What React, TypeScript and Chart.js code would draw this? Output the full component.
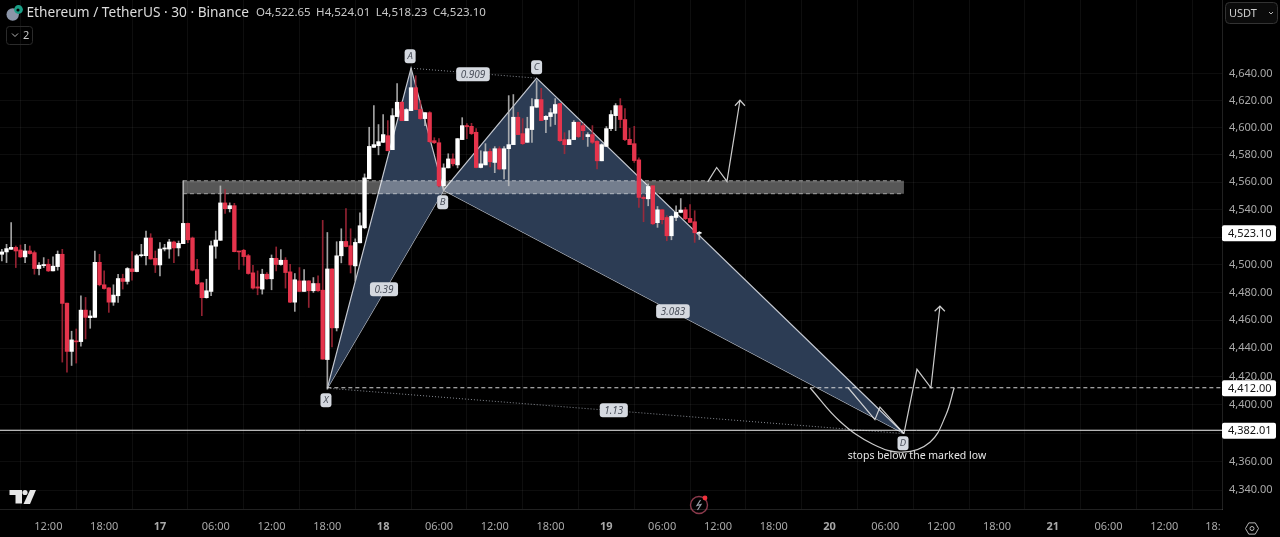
import React, { useEffect, useRef } from "react";
import { Chart, registerables } from "chart.js";

Chart.register(...registerables);

const FONT = '"Noto Sans", sans-serif';

// Candle i opens at hour firstHour + i * 0.5 (hours measured from 17 Sep 00:00)
const firstHour = -17;
const opens = [
  4507.5,4509.2,4511.1,4512.5,4510.6,4505.6,4509.9,4508.7,4497.2,4499.3,
  4500.3,4495.5,4498.6,4507.5,4472.3,4437.8,4445.1,4444.8,4467.3,4461.9,
  4462.1,4501.7,4485.5,4483.3,4473,4477.6,4490,4487.9,4497,4495,
  4506.5,4506.5,4519.3,4504.6,4499.8,4511.3,4511.3,4516.4,4512.1,4515.2,
  4529.9,4519.3,4496.5,4486.9,4476.2,4480.7,4513.3,4517.6,4544.8,4540.6,
  4542.8,4509.7,4510.4,4506.5,4494.1,4484,4482.4,4493.1,4489.8,4504.6,
  4500.1,4503.2,4494.8,4473,4488.3,4480.7,4488.3,4481.2,4486.4,4481.6,
  4432,4496.9,4454.6,4506.4,4516.8,4513.7,4499.1,4515.8,4526.7,4562.4,
  4585.5,4586.7,4589.2,4594.1,4583.8,4608.2,4618.8,4605.2,4612.6,4629.6,
  4613.4,4606.7,4611.1,4590.4,4588.9,4557.3,4570.4,4577,4572.6,4591.2,
  4601.3,4601,4596.6,4570.7,4572.6,4582.5,4574.4,4584.5,4569.6,4584.5,
  4587.5,4607.7,4595.6,4589.2,4598.6,4615.1,4620.8,4606,4608.2,4610.6,
  4617.8,4591.2,4587.5,4591.2,4604,4601.5,4593.4,4594.9,4589.9,4575.6,
  4586.2,4599.3,4608.9,4616.3,4606,4591.4,4588.2,4576.3,4548.8,4547.8,
  4557.3,4530.4,4539.8,4534.2,4520.9,4534.2,4537.9,4539.8,4533.5,4531.1,4522.65,
];
const highs = [
  4511.1,4514.7,4530.4,4513.5,4514.2,4514.7,4513.5,4509.9,4501.5,4505.1,
  4503.9,4505.6,4509.9,4511.1,4472.3,4452.2,4453.8,4477.6,4476.4,4466.9,
  4509.9,4507.5,4495.5,4483.5,4485.5,4493.1,4493.1,4497.9,4509.4,4507.5,
  4514.7,4524.3,4522.4,4509.9,4515.9,4514.7,4518.3,4517.1,4517.1,4560.9,
  4530.2,4520,4503.9,4487,4489.5,4517.1,4524.3,4557.2,4554.8,4544.8,
  4544.5,4509.7,4511.1,4507.5,4499.6,4495.5,4496.7,4494.3,4507,4512.8,
  4510.9,4505.1,4500.3,4493.6,4497.9,4496.5,4488.4,4490.7,4491.9,4532.1,
  4523.3,4497,4516.6,4526,4540.6,4526,4518.7,4537.6,4566,4600.3,
  4616.3,4602.3,4609.7,4605.2,4614.1,4632.6,4619.3,4614.1,4643.7,4638.5,
  4620,4611.2,4611.8,4592.6,4591.9,4573.4,4580.8,4580.8,4592,4607.4,
  4603,4603.2,4599.3,4583,4588.2,4584.5,4586,4586,4586,4623.7,
  4624.5,4611.4,4606.7,4607.7,4621.5,4634.8,4629.1,4608.9,4614.1,4621.5,
  4618,4596.3,4597.8,4605.2,4604.2,4603,4596.3,4601.5,4590.4,4588.2,
  4600.8,4612.6,4617.8,4621.5,4614.1,4599.5,4601,4577.8,4550,4558.7,
  4557.5,4542.2,4540,4535.5,4535.5,4542.7,4548,4541.5,4543.5,4539.1,4524.01,
];
const lows = [
  4502.7,4501.5,4511.1,4497.9,4505.1,4501.5,4507.5,4493.1,4492.6,4497.9,
  4495,4495.5,4496,4430.2,4423.1,4427.8,4429.5,4441.5,4446.7,4454.3,
  4462.1,4484.7,4482.4,4465.7,4470.7,4472.8,4482.4,4486,4488.8,4494.8,
  4505.6,4499.8,4503.9,4494.3,4491.9,4509.9,4504.6,4501.5,4506.3,4515.2,
  4515.9,4495.5,4485.5,4463.3,4475.9,4477.6,4504.6,4517.6,4537.2,4538.2,
  4509.2,4496.5,4499.6,4493.1,4482.4,4478.3,4478.8,4489.3,4481.9,4495.5,
  4499.6,4483.1,4472.6,4466.4,4480.7,4480.7,4469.2,4480,4480.7,4432.3,
  4411,4441,4452.4,4501.3,4512.9,4494,4488.3,4515.8,4526,4562.4,
  4585.5,4580,4589,4583,4583.8,4608.2,4605.2,4605.2,4612.6,4613.4,
  4606,4601.5,4589,4588.2,4556.5,4553.6,4570.4,4571.9,4570.4,4591.2,
  4591.9,4594.9,4570.4,4570.4,4572.6,4571.2,4566.9,4569,4562.4,4557.3,
  4587.5,4594.9,4587.5,4589.2,4589.2,4615,4605.2,4596.3,4601,4602.3,
  4589.7,4580.8,4587.5,4591.2,4592.6,4591.2,4586.2,4588.2,4569.6,4575.6,
  4586,4597.8,4597.8,4600,4590.4,4587.5,4574.4,4541.5,4531.1,4542.7,
  4529,4527,4529.6,4517.3,4518,4531.8,4537.6,4532.6,4530.4,4516.1,4518.23,
];
const closes = [
  4509.2,4511.6,4512.5,4509.9,4505.6,4509.9,4508,4497.2,4499.6,4500.1,
  4495.5,4498.9,4507.5,4472.1,4437.8,4446,4444.6,4467.3,4462.1,4463.1,
  4501.7,4485.5,4482.8,4473,4478.1,4490,4487.9,4497.2,4495,4506.5,
  4507,4519.3,4504.1,4499.8,4511.3,4512.1,4516.4,4512.1,4515.4,4529.9,
  4518,4496,4486.2,4476.2,4481.2,4513.7,4517.8,4544.8,4540.6,4542.8,
  4509.4,4509.2,4505.8,4493.6,4483.1,4483.1,4493.1,4489.8,4504.6,4500.1,
  4503.2,4494.3,4473,4489.1,4480.7,4488.3,4481.2,4486.4,4481.2,4432.3,
  4496.9,4454.6,4506.4,4516.8,4513.1,4499.8,4516.1,4528.2,4563.1,4586.2,
  4587.5,4589.7,4594.9,4583,4608.9,4618.8,4605.2,4613.4,4629.6,4613.4,
  4606.7,4611.1,4589.7,4588.9,4557.3,4570.4,4577,4573.4,4591.9,4601.5,
  4600.8,4595.6,4570.7,4573.4,4582.3,4574.9,4584.5,4569.6,4584.5,4587.5,
  4607.7,4594.9,4588.2,4599.3,4615.6,4620.8,4605.2,4608.4,4611.1,4617.1,
  4590.4,4587.5,4591.2,4604,4593.4,4597.8,4594.9,4589.2,4575.6,4587.5,
  4599.3,4609.7,4616.3,4606,4591.2,4587.5,4575.8,4548.8,4548,4556.8,
  4529.6,4539.8,4532.6,4520.9,4535,4537.9,4539.6,4533.3,4530.6,4523.1,4523.1,
];

// Axis ticks
const priceTicks = [4640,4620,4600,4580,4560,4540,4520,4500,4480,4460,4440,4420,4400,4380,4360,4340];
const hiddenPriceTicks = [4380];
const timeTicks = [-12,-6,0,6,12,18,24,30,36,42,48,54,60,66,72,78,84,90,96,102,108,114];
const timeLabels = ["12:00","18:00","17","06:00","12:00","18:00","18","06:00","12:00","18:00","19","06:00","12:00","18:00","20","06:00","12:00","18:00","21","06:00","12:00","18:     "];
const dayLabels = ["17","18","19","20","21"];

// XABCD pattern (hour, price)
const patternHours = { X: 18, A: 27, B: 30.5, C: 40.5, D: 80 };
const patternPrices = { X: 4411.7, A: 4644.1, B: 4554.1, C: 4636.7, D: 4379.7 };

// Price levels
const zoneTop = 4561;
const zoneBottom = 4551.5;
const zoneHours = [2.47, 80];
const dashedLevel = 4412.0;
const solidLevel = 4382.01;
const lastPrice = 4523.1;

// Hand-drawn projections (hour, price)
const upperPathHours = [58.9, 59.86, 60.97, 62.37];
const upperPathPrices = [4560.2, 4570.7, 4560.5, 4620.3];
const upperHeadHours = [61.83, 62.37, 62.9];
const upperHeadPrices = [4616.2, 4620.3, 4616.2];
const lowerPathHours = [80, 81.4, 82.9, 83.87];
const lowerPathPrices = [4379.7, 4425.1, 4412, 4470.1];
const lowerHeadHours = [83.3, 83.87, 84.4];
const lowerHeadPrices = [4466.5, 4470.1, 4466.5];
const zigHours = [74.0, 76.88, 77.42, 80];
const zigPrices = [4412, 4389.5, 4398.4, 4379.7];
const curveHours = [69.9, 73.1, 76.67, 79.9, 82.8, 84.5, 85.4];
const curvePrices = [4412, 4388.4, 4372.2, 4366.6, 4373.6, 4392.6, 4412];

// Annotations
const letterBadges = [
  { t: "A", h: 26.9, p: 4653 },
  { t: "B", h: 30.4, p: 4545.3 },
  { t: "C", h: 40.5, p: 4644.8 },
  { t: "X", h: 17.85, p: 4403.2 },
  { t: "D", h: 79.9, p: 4372.9 },
];
const ratioBadges = [
  { t: "0.909", h: 33.66, p: 4639.6 },
  { t: "3.083", h: 55.16, p: 4466.5 },
  { t: "0.39", h: 24.09, p: 4482.3 },
  { t: "1.13", h: 48.8, p: 4396.1 },
];
const noteText = "stops below the marked low";
const noteHour = 81.4;
const notePrice = 4363.8;
const titleText = "Ethereum / TetherUS · 30 · Binance";
const ohlcText = ["O4,522.65", "H4,524.01", "L4,518.23", "C4,523.10"];

const pts = (xs: number[], ys: number[]) => xs.map((x, i) => ({ x, y: ys[i] }));
const fmt = (v: number) =>
  v.toLocaleString("en-US", { minimumFractionDigits: 2, maximumFractionDigits: 2 });

const RED = "#e5344c";
const WHITE = "#ffffff";
const RED_WICK = "rgba(170,40,58,0.85)";
const WHITE_WICK = "rgba(190,190,190,0.85)";
const PATTERN_FILL = "#2c3c54";
const PATTERN_LINE = "rgba(205,210,218,0.95)";
const DRAW_LINE = "rgba(225,225,225,0.9)";

function line(data: any[], color: string, order: number, extra: any = {}) {
  return {
    type: "line",
    data,
    borderColor: color,
    borderWidth: 1.2,
    pointRadius: 0,
    pointHoverRadius: 0,
    tension: 0,
    fill: false,
    order,
    ...extra,
  };
}

const overlay = {
  id: "overlay",
  afterDraw(chart: any) {
    const { ctx, scales } = chart;
    const X = (h: number) => scales.x.getPixelForValue(h);
    const Y = (p: number) => scales.y.getPixelForValue(p);
    ctx.save();
    ctx.textBaseline = "middle";

    for (const b of ratioBadges) {
      ctx.font = `italic 10px ${FONT}`;
      const w = ctx.measureText(b.t).width + 9;
      ctx.fillStyle = "#d5d9e0";
      ctx.beginPath();
      ctx.roundRect(X(b.h) - w / 2, Y(b.p) - 7, w, 14, 3);
      ctx.fill();
      ctx.fillStyle = "#4a4f5a";
      ctx.textAlign = "center";
      ctx.fillText(b.t, X(b.h), Y(b.p) + 0.5);
    }
    for (const b of letterBadges) {
      ctx.font = `italic 9.5px ${FONT}`;
      ctx.fillStyle = "#d5d9e0";
      ctx.beginPath();
      ctx.roundRect(X(b.h) - 5.5, Y(b.p) - 7, 11, 14, 3);
      ctx.fill();
      ctx.fillStyle = "#4a4f5a";
      ctx.textAlign = "center";
      ctx.fillText(b.t, X(b.h), Y(b.p) + 0.5);
    }

    ctx.font = `10.5px ${FONT}`;
    ctx.fillStyle = "#e8e8e8";
    ctx.textAlign = "center";
    ctx.fillText(noteText, X(noteHour), Y(notePrice));

    // price tags
    for (const v of [lastPrice, dashedLevel, solidLevel]) {
      const y = Y(v) + 0.5;
      ctx.fillStyle = "#ffffff";
      ctx.beginPath();
      ctx.roundRect(1222, y - 8, 54, 16, 2);
      ctx.fill();
      ctx.fillStyle = "#111111";
      ctx.font = `11px ${FONT}`;
      ctx.textAlign = "left";
      ctx.fillText(fmt(v), 1228, y + 0.5);
    }

    // header
    ctx.textAlign = "left";
    ctx.fillStyle = "#dcdcdc";
    ctx.font = `13.7px ${FONT}`;
    ctx.fillText(titleText, 26.5, 13);
    ctx.font = `11.5px ${FONT}`;
    ctx.fillStyle = "#c8c8c8";
    let ox = 256;
    for (const s of ohlcText) {
      ctx.fillText(s, ox, 13);
      ox += ctx.measureText(s).width + 5.5;
    }
    ctx.fillStyle = "#8b95a8";
    ctx.beginPath();
    ctx.arc(12.7, 14.5, 6.2, 0, Math.PI * 2);
    ctx.fill();
    ctx.fillStyle = "#1a9e86";
    ctx.beginPath();
    ctx.arc(18.5, 9.5, 4.4, 0, Math.PI * 2);
    ctx.fill();
    ctx.fillStyle = "#000";
    ctx.beginPath();
    ctx.arc(18, 10, 1.6, 0, Math.PI * 2);
    ctx.fill();

    // collapse button
    ctx.strokeStyle = "#2b2b2b";
    ctx.beginPath();
    ctx.roundRect(6.5, 26.5, 26, 18, 3);
    ctx.stroke();
    ctx.strokeStyle = "#b5b5b5";
    ctx.beginPath();
    ctx.moveTo(12, 33.5);
    ctx.lineTo(15, 36.5);
    ctx.lineTo(18, 33.5);
    ctx.stroke();
    ctx.fillStyle = "#c8c8c8";
    ctx.font = `11px ${FONT}`;
    ctx.fillText("2", 23, 35.5);

    // USDT button
    ctx.strokeStyle = "#333333";
    ctx.fillStyle = "#0b0b0b";
    ctx.beginPath();
    ctx.roundRect(1225.5, 2.5, 52, 21, 4);
    ctx.fill();
    ctx.stroke();
    ctx.fillStyle = "#d0d0d0";
    ctx.font = `11px ${FONT}`;
    ctx.fillText("USDT", 1229, 13.5);
    ctx.strokeStyle = "#b5b5b5";
    ctx.beginPath();
    ctx.moveTo(1269, 12);
    ctx.lineTo(1271, 14);
    ctx.lineTo(1273, 12);
    ctx.stroke();

    // logo
    ctx.fillStyle = "#e6e6e6";
    ctx.fillRect(9.5, 490, 12.5, 5);
    ctx.fillRect(15.5, 490, 6.5, 13.5);
    ctx.beginPath();
    ctx.arc(25, 492.5, 2.6, 0, Math.PI * 2);
    ctx.fill();
    ctx.beginPath();
    ctx.moveTo(30, 490);
    ctx.lineTo(36, 490);
    ctx.lineTo(30, 504);
    ctx.lineTo(23.5, 504);
    ctx.closePath();
    ctx.fill();

    // replay badge
    ctx.strokeStyle = "#8c3a4c";
    ctx.lineWidth = 1.4;
    ctx.beginPath();
    ctx.arc(699, 505, 8.5, 0, Math.PI * 2);
    ctx.stroke();
    ctx.strokeStyle = "#9aa0aa";
    ctx.lineWidth = 1.2;
    ctx.beginPath();
    ctx.moveTo(700.5, 500);
    ctx.lineTo(697, 505.5);
    ctx.lineTo(701, 504.5);
    ctx.lineTo(697.5, 510);
    ctx.stroke();
    ctx.fillStyle = "#f0323c";
    ctx.beginPath();
    ctx.arc(705, 498, 2.4, 0, Math.PI * 2);
    ctx.fill();

    // settings hexagon
    ctx.strokeStyle = "#b5b5b5";
    ctx.lineWidth = 1;
    ctx.beginPath();
    for (let k = 0; k < 6; k++) {
      const a = Math.PI / 3 * k;
      const px = 1252 + 6.5 * Math.cos(a);
      const py = 528.5 + 6.5 * Math.sin(a);
      k ? ctx.lineTo(px, py) : ctx.moveTo(px, py);
    }
    ctx.closePath();
    ctx.stroke();
    ctx.beginPath();
    ctx.arc(1252, 528.5, 2, 0, Math.PI * 2);
    ctx.stroke();
    ctx.restore();
  },
};

const noPadding = (s: any) => {
  s.paddingTop = 0;
  s.paddingBottom = 0;
  s.paddingLeft = 0;
  s.paddingRight = 0;
};

export default function App() {
  const ref = useRef<HTMLCanvasElement | null>(null);
  useEffect(() => {
    document.body.style.margin = "0";
    document.body.style.background = "#000";
    const candleHours = opens.map((_, i) => firstHour + i * 0.5);
    const up = opens.map((o, i) => closes[i] >= o);
    const P = patternPrices;
    const H = patternHours;
    const chart = new Chart(ref.current as HTMLCanvasElement, {
      type: "bar",
      data: {
        datasets: [
          // pattern triangles
          line(pts([H.X, H.A, H.B], [P.X, P.A, P.B]), PATTERN_LINE, 20, { fill: "+1", backgroundColor: PATTERN_FILL }),
          line(pts([H.X, H.B], [P.X, P.B]), PATTERN_LINE, 20),
          line(pts([H.B, H.C, H.D], [P.B, P.C, P.D]), PATTERN_LINE, 20, { fill: "+1", backgroundColor: PATTERN_FILL }),
          line(pts([H.B, H.D], [P.B, P.D]), PATTERN_LINE, 20),
          // zone
          line(pts(zoneHours, [zoneTop, zoneTop]), "rgba(255,255,255,0.55)", 18, { fill: "+1", backgroundColor: "rgba(255,255,255,0.34)", borderDash: [4, 3], borderWidth: 1 }),
          line(pts(zoneHours, [zoneBottom, zoneBottom]), "rgba(255,255,255,0.55)", 18, { borderDash: [4, 3], borderWidth: 1 }),
          // candles
          {
            type: "bar",
            data: candleHours.map((x, i) => ({ x, y: [lows[i], highs[i]] })),
            backgroundColor: up.map((u) => (u ? WHITE_WICK : RED_WICK)),
            barThickness: 1,
            grouped: false,
            order: 6,
          },
          {
            type: "bar",
            data: candleHours.map((x, i) => ({ x, y: [opens[i], closes[i]] })),
            backgroundColor: up.map((u) => (u ? WHITE : RED)),
            barThickness: 3.7,
            minBarLength: 1,
            grouped: false,
            order: 5,
          },
          // levels
          line(pts([H.X, 114.2], [dashedLevel, dashedLevel]), "rgba(235,235,235,0.9)", 3, { borderDash: [4, 3], borderWidth: 1 }),
          line(pts([-17.2, 114.2], [solidLevel, solidLevel]), "#f2f2f2", 3, { borderWidth: 1 }),
          // ratio lines
          line(pts([H.A, H.C], [P.A, P.C]), "rgba(190,195,205,0.7)", 3, { borderDash: [1, 2], borderWidth: 1 }),
          line(pts([H.X, H.D], [P.X, P.D]), "rgba(190,195,205,0.7)", 3, { borderDash: [1, 2], borderWidth: 1 }),
          // projections
          line(pts(upperPathHours, upperPathPrices), DRAW_LINE, 2),
          line(pts(upperHeadHours, upperHeadPrices), DRAW_LINE, 2),
          line(pts(lowerPathHours, lowerPathPrices), DRAW_LINE, 2),
          line(pts(lowerHeadHours, lowerHeadPrices), DRAW_LINE, 2),
          line(pts(zigHours, zigPrices), DRAW_LINE, 2),
          line(pts(curveHours, curvePrices), DRAW_LINE, 2, { tension: 0.4 }),
        ] as any,
      },
      options: {
        animation: false,
        responsive: false,
        maintainAspectRatio: false,
        layout: { padding: 0 },
        plugins: { legend: { display: false }, tooltip: { enabled: false } },
        events: [],
        scales: {
          x: {
            type: "linear",
            min: -17.2,
            max: 114.2,
            offset: false,
            afterFit: (s: any) => { s.height = 28; noPadding(s); },
            afterBuildTicks: (s: any) => { s.ticks = timeTicks.map((value) => ({ value })); },
            grid: { color: "rgba(255,255,255,0.055)", drawTicks: false },
            border: { color: "rgba(255,255,255,0.13)" },
            ticks: {
              autoSkip: false,
              maxRotation: 0,
              padding: 11,
              callback: (v: any) => timeLabels[timeTicks.indexOf(Number(v))],
              font: (c: any) => {
                const lbl = timeLabels[timeTicks.indexOf(c.tick?.value)];
                return { family: FONT, size: 11, weight: dayLabels.includes(lbl) ? "bold" : "normal" };
              },
              color: "#a9a9a9",
            },
          },
          y: {
            type: "logarithmic",
            position: "right",
            min: 4327.0,
            max: 4695.2,
            bounds: "data",
            afterFit: (s: any) => { s.width = 58; noPadding(s); },
            afterBuildTicks: (s: any) => { s.ticks = priceTicks.map((value) => ({ value })); },
            grid: { color: "rgba(255,255,255,0.05)", drawTicks: false },
            border: { color: "rgba(255,255,255,0.13)" },
            ticks: {
              autoSkip: false,
              padding: 7,
              callback: (v: any) => (hiddenPriceTicks.includes(Number(v)) ? "" : fmt(Number(v))),
              font: { family: FONT, size: 11 },
              color: "#a9a9a9",
            },
          },
        },
      } as any,
      plugins: [overlay],
    });
    return () => chart.destroy();
  }, []);
  return (
    <div style={{ position: "fixed", left: 0, top: 0, width: 1280, height: 537, background: "#000" }}>
      <canvas ref={ref} width={1280} height={537} style={{ display: "block" }} />
    </div>
  );
}
